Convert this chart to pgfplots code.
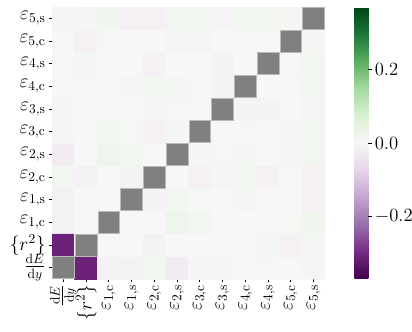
\RequirePackage{fix-cm}
\documentclass[border=0pt]{standalone}
\usepackage{amsmath}
\usepackage{fontspec}
\usepackage{pgfplots}
\pgfplotsset{compat=1.18}

% matplotlib PRGn
\pgfplotsset{
  colormap={prgn}{
    rgb255=(64,0,75) rgb255=(118,42,131) rgb255=(153,112,171)
    rgb255=(194,165,207) rgb255=(231,212,232) rgb255=(247,247,247)
    rgb255=(217,240,211) rgb255=(166,219,160) rgb255=(90,174,97)
    rgb255=(27,120,55) rgb255=(0,68,27)
  },
}
\newcommand{\lblfont}{\fontsize{14.5}{17}\selectfont}
\newcommand{\cbfont}{\fontsize{14}{17}\selectfont}

\begin{document}
\begin{tikzpicture}
\begin{axis}[
  name=main,
  scale only axis,
  width=204.75pt, height=204pt,
  xmin=-0.5, xmax=11.5, ymin=-0.5, ymax=11.5,
  enlargelimits=false,
  axis line style={draw=none},
  tick align=outside,
  major tick length=2.6pt,
  tick style={black, line width=0.6pt},
  xtick pos=left, ytick pos=left,
  xtick={0,...,11}, ytick={0,...,11},
  tick label style={font=\lblfont},
  xticklabels={$\frac{\mathrm{d}E}{\mathrm{d}y}$, $\{r^2\}$,
    $\varepsilon_{1,\mathrm{c}}$, $\varepsilon_{1,\mathrm{s}}$,
    $\varepsilon_{2,\mathrm{c}}$, $\varepsilon_{2,\mathrm{s}}$,
    $\varepsilon_{3,\mathrm{c}}$, $\varepsilon_{3,\mathrm{s}}$,
    $\varepsilon_{4,\mathrm{c}}$, $\varepsilon_{4,\mathrm{s}}$,
    $\varepsilon_{5,\mathrm{c}}$, $\varepsilon_{5,\mathrm{s}}$},
  yticklabels={$\frac{\mathrm{d}E}{\mathrm{d}y}$, $\{r^2\}$,
    $\varepsilon_{1,\mathrm{c}}$, $\varepsilon_{1,\mathrm{s}}$,
    $\varepsilon_{2,\mathrm{c}}$, $\varepsilon_{2,\mathrm{s}}$,
    $\varepsilon_{3,\mathrm{c}}$, $\varepsilon_{3,\mathrm{s}}$,
    $\varepsilon_{4,\mathrm{c}}$, $\varepsilon_{4,\mathrm{s}}$,
    $\varepsilon_{5,\mathrm{c}}$, $\varepsilon_{5,\mathrm{s}}$},
  xticklabel style={rotate=90, anchor=east, inner sep=1.5pt},
  yticklabel style={inner xsep=2pt},
  colormap name=prgn,
  point meta min=-0.37, point meta max=0.37,
  colorbar,
  colorbar style={
    width=10.5pt,
    at={(parent axis.north east)}, anchor=north west, xshift=13.5pt,
    axis line style={draw=none},
    ytick={-0.2,0,0.2},
    ytick pos=right,
    tick align=outside,
    major tick length=2.6pt,
    tick style={black, line width=0.6pt},
    yticklabel style={font=\cbfont, inner xsep=2pt,
      /pgf/number format/.cd, fixed, fixed zerofill, precision=1},
  },
]
\addplot[matrix plot*, mesh/cols=12, point meta=explicit] coordinates {
(0,0) [0] (1,0) [-0.31] (2,0) [-0.010] (3,0) [-0.012] (4,0) [0.014] (5,0) [-0.022] (6,0) [-0.004] (7,0) [0.008] (8,0) [0.001] (9,0) [0.004] (10,0) [0.002] (11,0) [-0.004]
(0,1) [-0.31] (1,1) [0] (2,1) [0.005] (3,1) [0.000] (4,1) [-0.012] (5,1) [0.000] (6,1) [0.001] (7,1) [0.003] (8,1) [0.004] (9,1) [0.010] (10,1) [-0.014] (11,1) [0.008]
(0,2) [-0.010] (1,2) [0.005] (2,2) [0] (3,2) [0.001] (4,2) [0.000] (5,2) [0.022] (6,2) [0.014] (7,2) [0.003] (8,2) [0.002] (9,2) [0.000] (10,2) [0.004] (11,2) [0.018]
(0,3) [-0.012] (1,3) [0.000] (2,3) [0.001] (3,3) [0] (4,3) [-0.010] (5,3) [0.015] (6,3) [0.004] (7,3) [0.000] (8,3) [0.007] (9,3) [0.002] (10,3) [0.002] (11,3) [-0.014]
(0,4) [0.014] (1,4) [-0.012] (2,4) [0.000] (3,4) [-0.010] (4,4) [0] (5,4) [0.001] (6,4) [-0.015] (7,4) [-0.004] (8,4) [0.014] (9,4) [-0.015] (10,4) [0.000] (11,4) [-0.014]
(0,5) [-0.022] (1,5) [0.000] (2,5) [0.022] (3,5) [0.015] (4,5) [0.001] (5,5) [0] (6,5) [0.008] (7,5) [0.004] (8,5) [0.011] (9,5) [0.002] (10,5) [0.006] (11,5) [0.014]
(0,6) [-0.004] (1,6) [0.001] (2,6) [0.014] (3,6) [0.004] (4,6) [-0.015] (5,6) [0.008] (6,6) [0] (7,6) [-0.002] (8,6) [0.004] (9,6) [0.000] (10,6) [0.007] (11,6) [0.014]
(0,7) [0.008] (1,7) [0.003] (2,7) [0.003] (3,7) [0.000] (4,7) [-0.004] (5,7) [0.004] (6,7) [-0.002] (7,7) [0] (8,7) [-0.011] (9,7) [-0.010] (10,7) [0.002] (11,7) [-0.008]
(0,8) [0.001] (1,8) [0.004] (2,8) [0.002] (3,8) [0.007] (4,8) [0.014] (5,8) [0.011] (6,8) [0.004] (7,8) [-0.011] (8,8) [0] (9,8) [0.002] (10,8) [0.004] (11,8) [0.014]
(0,9) [0.004] (1,9) [0.010] (2,9) [0.000] (3,9) [0.002] (4,9) [-0.015] (5,9) [0.002] (6,9) [0.000] (7,9) [-0.010] (8,9) [0.002] (9,9) [0] (10,9) [0.004] (11,9) [0.012]
(0,10) [0.002] (1,10) [-0.014] (2,10) [0.004] (3,10) [0.002] (4,10) [0.000] (5,10) [0.006] (6,10) [0.007] (7,10) [0.002] (8,10) [0.004] (9,10) [0.004] (10,10) [0] (11,10) [0.006]
(0,11) [-0.004] (1,11) [0.008] (2,11) [0.018] (3,11) [-0.014] (4,11) [-0.014] (5,11) [0.014] (6,11) [0.014] (7,11) [-0.008] (8,11) [0.014] (9,11) [0.012] (10,11) [0.006] (11,11) [0]
};
% masked diagonal
\addplot[only marks, mark=square*, mark size=8.2pt,
  mark options={fill=gray, draw=gray!55, line width=0.6pt}]
  coordinates {(0,0) (1,1) (2,2) (3,3) (4,4) (5,5) (6,6) (7,7) (8,8) (9,9) (10,10) (11,11)};
\end{axis}
% page as large as the saved figure, around the heatmap
\pgfresetboundingbox
\path ([shift={(-39pt,-39pt)}]main.south west)
  rectangle ([shift={(65.25pt,5.25pt)}]main.north east);
\end{tikzpicture}
\end{document}
